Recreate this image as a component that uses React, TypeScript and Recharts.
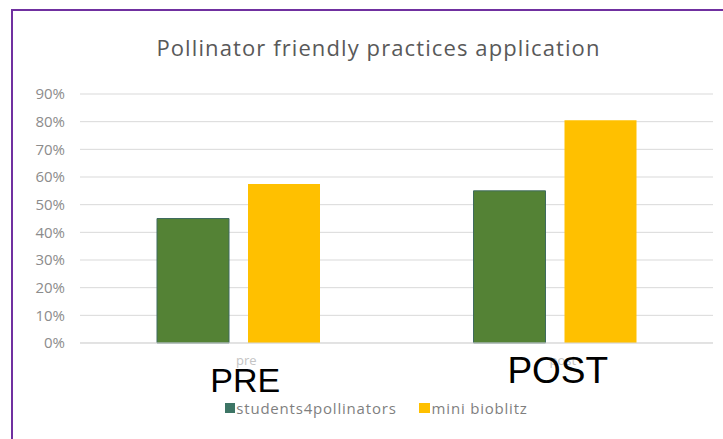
import { BarChart, Bar, XAxis, YAxis, CartesianGrid, Legend } from 'recharts';

const categories = ['pre', 'post'];
const overlayLabels = ['PRE', 'POST'];
const students4pollinators = [0.45, 0.55];
const miniBioblitz = [0.575, 0.805];
const yTicks = [0, 0.1, 0.2, 0.3, 0.4, 0.5, 0.6, 0.7, 0.8, 0.9];

const GREEN = '#548235';
const YELLOW = '#FFC000';

const data = categories.map((name, i) => ({
  name,
  overlay: overlayLabels[i],
  s4p: students4pollinators[i],
  mini: miniBioblitz[i],
}));

// the big PRE / POST text boxes sit a little differently over each category
const overlayStyle = [
  { dx: 7, dy: 49, size: 34 },
  { dx: 3, dy: 40, size: 37 },
];

const CategoryTick = ({ x, y, payload, index }: any) => {
  const st = overlayStyle[index] || overlayStyle[0];
  return (
    <g>
      <text x={x + 8} y={y + 22} textAnchor="middle" fontSize={13} fill="#c4c4c4" fontFamily="Open Sans">
        {payload.value}
      </text>
      <text x={x + st.dx} y={y + st.dy} textAnchor="middle" fontSize={st.size} fill="#000" fontFamily="Liberation Sans">
        {data[index]?.overlay}
      </text>
    </g>
  );
};

const LegendContent = () => (
  <div
    style={{
      display: 'flex',
      justifyContent: 'center',
      fontFamily: 'Open Sans',
      fontSize: 15,
      letterSpacing: 0.8,
      color: '#7f7f7f',
      paddingLeft: 30,
    }}
  >
    <span style={{ display: 'flex', alignItems: 'center', marginRight: 22 }}>
      <span style={{ width: 10, height: 10, background: '#3d7565', marginRight: 1 }} />
      students4pollinators
    </span>
    <span style={{ display: 'flex', alignItems: 'center' }}>
      <span style={{ width: 11, height: 10, background: YELLOW, marginRight: 2 }} />
      mini bioblitz
    </span>
  </div>
);

export default function App() {
  return (
    <div style={{ position: 'absolute', left: 0, top: 0, width: 723, height: 439, background: '#fff', overflow: 'hidden' }}>
      <div
        style={{
          position: 'absolute',
          left: 11,
          top: 9,
          width: 730,
          height: 440,
          borderLeft: '2px solid #7030A0',
          borderTop: '2px solid #7030A0',
        }}
      />
      <div
        style={{
          position: 'absolute',
          left: 0,
          top: 32,
          width: 757,
          textAlign: 'center',
          fontFamily: 'Open Sans',
          fontSize: 22,
          letterSpacing: 1.1,
          color: '#595959',
        }}
      >
        Pollinator friendly practices application
      </div>
      <div style={{ position: 'absolute', left: 0, top: 0 }}>
        <BarChart
          width={723}
          height={439}
          data={data}
          margin={{ top: 94, right: 10, left: 10, bottom: 26 }}
          barSize={72}
          barGap={19}
        >
          <CartesianGrid vertical={false} stroke="#d9d9d9" />
          <XAxis
            dataKey="name"
            height={50}
            tickSize={0}
            tickMargin={0}
            axisLine={{ stroke: '#d9d9d9' }}
            tickLine={false}
            tick={<CategoryTick />}
            interval={0}
          />
          <YAxis
            width={70}
            domain={[0, 0.9]}
            ticks={yTicks}
            tickFormatter={(v: number) => `${Math.round(v * 100)}%`}
            axisLine={false}
            tickLine={false}
            tickSize={0}
            tickMargin={15}
            tick={{ fontSize: 15, fill: '#8c8c8c', fontFamily: 'Open Sans' }}
          />
          <Legend verticalAlign="bottom" wrapperStyle={{ top: 398, left: 0, width: 723 }} content={<LegendContent />} />
          <Bar dataKey="s4p" name="students4pollinators" fill={GREEN} stroke="#3f6b5e" strokeWidth={1} isAnimationActive={false} />
          <Bar dataKey="mini" name="mini bioblitz" fill={YELLOW} isAnimationActive={false} />
        </BarChart>
      </div>
    </div>
  );
}
